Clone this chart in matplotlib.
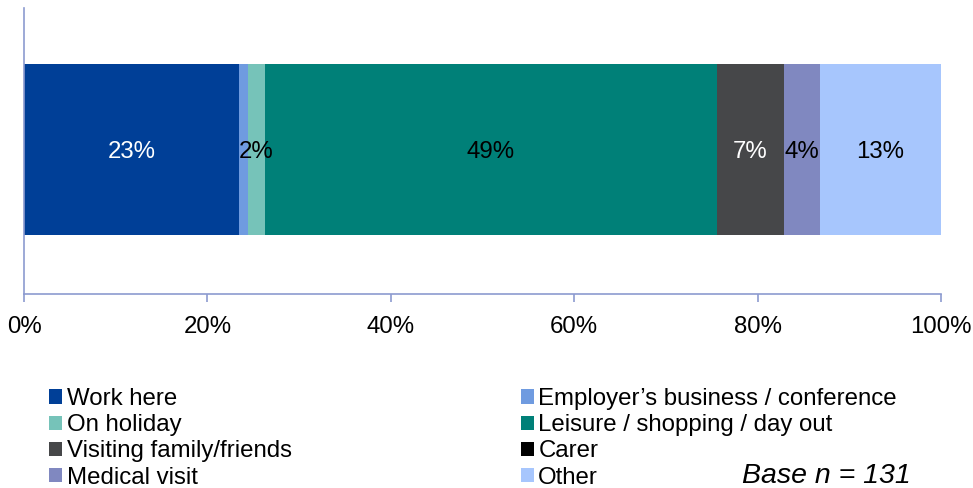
import matplotlib
matplotlib.use("Agg")
import matplotlib.pyplot as plt
from matplotlib.patches import Patch

plt.rcParams['font.family'] = ['Liberation Sans', 'DejaVu Sans']

categories = ["Work here", "Employer\u2019s business / conference", "On holiday",
              "Leisure / shopping / day out", "Visiting family/friends", "Carer",
              "Medical visit", "Other"]
values = [23.45, 0.98, 1.85, 49.3, 7.3, 0.0, 3.9, 13.2]
bar_labels = ["23%", "", "2%", "49%", "7%", "", "4%", "13%"]
colors = ["#003f97", "#6f9be0", "#76c3b9", "#008078", "#464749", "#000000",
          "#8088c0", "#a7c6fd"]
label_colors = ["white", "black", "black", "black", "white", "black", "black", "black"]
xticks = [0, 20, 40, 60, 80, 100]
xticklabels = ["0%", "20%", "40%", "60%", "80%", "100%"]

FS = 17.3
fig = plt.figure(figsize=(9.73, 4.88), dpi=100)
ax = fig.add_axes([24/973, 1-294/488, 917/973, 286/488])

left = 0.0
for v, c, lab, lc in zip(values, colors, bar_labels, label_colors):
    ax.barh(0, v, left=left, height=0.598, color=c, edgecolor='none')
    if lab:
        ax.text(left + v/2, -0.007, lab, ha='center', va='center', fontsize=FS, color=lc)
    left += v

ax.set_xlim(0, 100)
ax.set_ylim(-0.505, 0.495)
ax.set_yticks([])
ax.set_xticks(xticks)
ax.set_xticklabels(xticklabels, fontsize=FS)
spc = "#8c9bd0"
for s in ['top', 'right']:
    ax.spines[s].set_visible(False)
for s in ['left', 'bottom']:
    ax.spines[s].set_color(spc)
    ax.spines[s].set_linewidth(1.2)
ax.tick_params(axis='x', direction='out', length=5.5, width=1.2, color=spc, pad=10)

handles = [Patch(facecolor=c, edgecolor='none') for c in colors]
order = [0, 2, 4, 6, 1, 3, 5, 7]
fig.legend([handles[i] for i in order], [categories[i] for i in order],
           ncol=2, loc='upper left', bbox_to_anchor=(49/973, 1-388/488),
           frameon=False, fontsize=FS, borderpad=0, borderaxespad=0,
           handlelength=0.54, handleheight=0.54, handletextpad=0.2,
           labelspacing=0.175, columnspacing=9.52)

fig.text(742/973, 1-476/488, "Base n = 131", fontsize=20.5, style='italic',
         ha='left', va='center')

fig.savefig("out.png", dpi=100)
